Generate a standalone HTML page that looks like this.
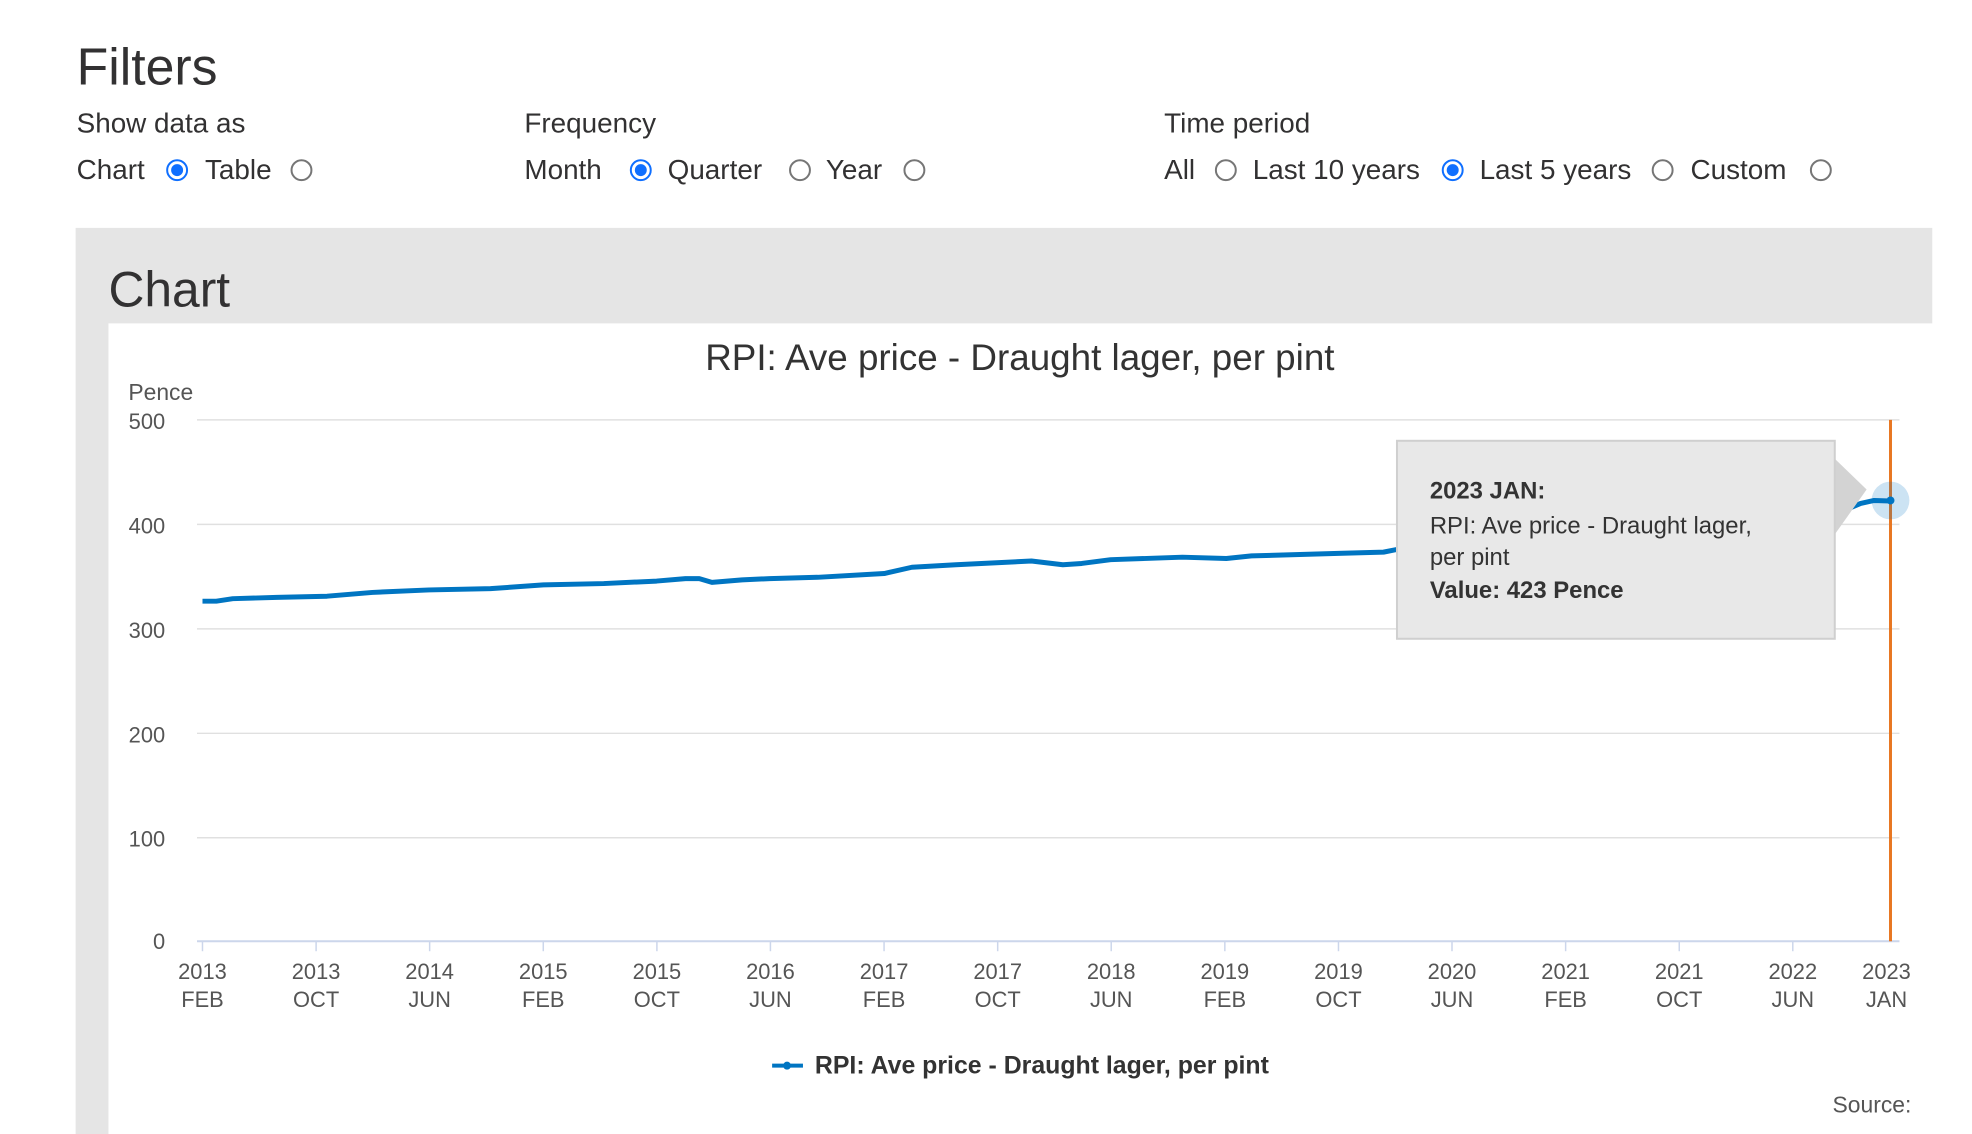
<!DOCTYPE html>
<html><head><meta charset="utf-8"><style>
body{margin:0;width:1972px;height:1128px;background:#fff;position:relative;overflow:hidden;font-family:"Liberation Sans",sans-serif;color:#323132}
#w{position:absolute;left:0;top:0;width:1972px;height:1140px;transform:scale(0.995);transform-origin:0 0}
.t{position:absolute;white-space:nowrap}
.r{position:absolute;width:22px;height:22px;border:2px solid #767676;border-radius:50%;box-sizing:border-box;background:#fff}
.r.s{border-color:#0f6fff}
.r.s::after{content:"";position:absolute;left:3px;top:3px;width:12px;height:12px;border-radius:50%;background:#0f6fff}
</style></head><body><div id="w">
<div class="t" style="left:77px;top:38px;font-size:52px">Filters</div>
<div class="t" style="left:77px;top:108px;font-size:28px">Show data as</div>
<div class="t" style="left:527px;top:108px;font-size:28px">Frequency</div>
<div class="t" style="left:1170px;top:108px;font-size:28px">Time period</div>

<div class="t" style="left:77px;top:155px;font-size:28px">Chart</div>
<div class="r s" style="left:167px;top:160px"></div>
<div class="t" style="left:206px;top:155px;font-size:28px">Table</div>
<div class="r" style="left:292px;top:160px"></div>

<div class="t" style="left:527px;top:155px;font-size:28px">Month</div>
<div class="r s" style="left:633px;top:160px"></div>
<div class="t" style="left:671px;top:155px;font-size:28px">Quarter</div>
<div class="r" style="left:793px;top:160px"></div>
<div class="t" style="left:830px;top:155px;font-size:28px">Year</div>
<div class="r" style="left:908px;top:160px"></div>

<div class="t" style="left:1170px;top:155px;font-size:28px">All</div>
<div class="r" style="left:1221px;top:160px"></div>
<div class="t" style="left:1259px;top:155px;font-size:28px">Last 10 years</div>
<div class="r s" style="left:1449px;top:160px"></div>
<div class="t" style="left:1487px;top:155px;font-size:28px">Last 5 years</div>
<div class="r" style="left:1660px;top:160px"></div>
<div class="t" style="left:1699px;top:155px;font-size:28px">Custom</div>
<div class="r" style="left:1819px;top:160px"></div>

<div style="position:absolute;left:76px;top:229px;width:1866px;height:911px;background:#e5e5e5"></div>
<div style="position:absolute;left:109px;top:325px;width:1863px;height:815px;background:#fff"></div>
<div class="t" style="left:109px;top:262px;font-size:50px">Chart</div>

<svg style="position:absolute;left:0;top:0" width="1972" height="1140">
<g font-family="Liberation Sans, sans-serif" fill="#555">
<text x="1025" y="372" font-size="37" text-anchor="middle" fill="#333">RPI: Ave price - Draught lager, per pint</text>
<text x="129" y="402" font-size="23">Pence</text>
<g stroke="#e0e0e0" stroke-width="1.5">
<line x1="198" x2="1909" y1="422" y2="422"/><line x1="198" x2="1909" y1="527" y2="527"/>
<line x1="198" x2="1909" y1="632" y2="632"/><line x1="198" x2="1909" y1="737" y2="737"/>
<line x1="198" x2="1909" y1="842" y2="842"/>
</g>
<line x1="198" x2="1909" y1="946" y2="946" stroke="#ccd6eb" stroke-width="2"/>
<g font-size="22" text-anchor="end">
<text x="166" y="431">500</text><text x="166" y="536">400</text><text x="166" y="641">300</text>
<text x="166" y="746">200</text><text x="166" y="851">100</text><text x="166" y="954">0</text>
</g>
<g stroke="#ccd6eb" stroke-width="1.5">
<line x1="203.5" x2="203.5" y1="946" y2="956"/><line x1="317.7" x2="317.7" y1="946" y2="956"/>
<line x1="431.8" x2="431.8" y1="946" y2="956"/><line x1="546" x2="546" y1="946" y2="956"/>
<line x1="660.2" x2="660.2" y1="946" y2="956"/><line x1="774.3" x2="774.3" y1="946" y2="956"/>
<line x1="888.5" x2="888.5" y1="946" y2="956"/><line x1="1002.7" x2="1002.7" y1="946" y2="956"/>
<line x1="1116.8" x2="1116.8" y1="946" y2="956"/><line x1="1231" x2="1231" y1="946" y2="956"/>
<line x1="1345.2" x2="1345.2" y1="946" y2="956"/><line x1="1459.3" x2="1459.3" y1="946" y2="956"/>
<line x1="1573.5" x2="1573.5" y1="946" y2="956"/><line x1="1687.7" x2="1687.7" y1="946" y2="956"/>
<line x1="1801.8" x2="1801.8" y1="946" y2="956"/>
</g>
<g font-size="22" text-anchor="middle">
<text x="203.5" y="984">2013</text><text x="203.5" y="1012">FEB</text>
<text x="317.7" y="984">2013</text><text x="317.7" y="1012">OCT</text>
<text x="431.8" y="984">2014</text><text x="431.8" y="1012">JUN</text>
<text x="546" y="984">2015</text><text x="546" y="1012">FEB</text>
<text x="660.2" y="984">2015</text><text x="660.2" y="1012">OCT</text>
<text x="774.3" y="984">2016</text><text x="774.3" y="1012">JUN</text>
<text x="888.5" y="984">2017</text><text x="888.5" y="1012">FEB</text>
<text x="1002.7" y="984">2017</text><text x="1002.7" y="1012">OCT</text>
<text x="1116.8" y="984">2018</text><text x="1116.8" y="1012">JUN</text>
<text x="1231" y="984">2019</text><text x="1231" y="1012">FEB</text>
<text x="1345.2" y="984">2019</text><text x="1345.2" y="1012">OCT</text>
<text x="1459.3" y="984">2020</text><text x="1459.3" y="1012">JUN</text>
<text x="1573.5" y="984">2021</text><text x="1573.5" y="1012">FEB</text>
<text x="1687.7" y="984">2021</text><text x="1687.7" y="1012">OCT</text>
<text x="1801.8" y="984">2022</text><text x="1801.8" y="1012">JUN</text>
<text x="1896" y="984">2023</text><text x="1896" y="1012">JAN</text>
</g>
<line x1="1900" x2="1900" y1="422" y2="946" stroke="#e87722" stroke-width="3"/>
<polyline fill="none" stroke="#0075c2" stroke-width="5" stroke-linejoin="round" points="203.5,604.2 217.4,604.2 233.9,601.7 278.1,600.4 328.7,599.2 374.2,595.4 431.1,592.9 493,591.6 546.1,587.8 606.8,586.5 659.9,584 688.9,581.5 702.8,581.5 715.5,585.3 745.8,582.8 773.6,581.5 821.7,580.2 888.7,576.4 916.5,570.1 960.7,567.6 1036.6,563.8 1068.2,567.6 1087.1,566.3 1116.2,562.5 1188.3,560 1232.5,561.3 1257.8,558.7 1345,556.2 1390.5,554.9 1410,551"/>
<polyline fill="none" stroke="#0075c2" stroke-width="5" stroke-linejoin="round" points="1840,520 1855.7,512 1870,506 1883.5,503 1900,503.5"/>
<circle cx="1900" cy="503" r="19" fill="#0075c2" fill-opacity="0.2"/>
<circle cx="1900" cy="503" r="4" fill="#0075c2"/>
<polygon points="1844,461 1876,492 1844,537" fill="#d3d3d3"/>
<rect x="1404" y="443" width="440" height="199" fill="#e8e8e8" stroke="#cfcfcf" stroke-width="2"/>
<g font-size="24" fill="#333">
<text x="1437" y="501" font-weight="bold">2023 JAN:</text>
<text x="1437" y="536">RPI: Ave price - Draught lager,</text>
<text x="1437" y="568">per pint</text>
<text x="1437" y="601" font-weight="bold">Value: 423 Pence</text>
</g>
<line x1="776" x2="807" y1="1071" y2="1071" stroke="#0075c2" stroke-width="4"/>
<circle cx="791" cy="1071" r="4" fill="#0075c2"/>
<text x="819" y="1079" font-size="25" font-weight="bold" fill="#333">RPI: Ave price - Draught lager, per pint</text>
<text x="1921" y="1118" font-size="23" text-anchor="end" fill="#555">Source:</text>
</g>
</svg>
</div></body></html>
